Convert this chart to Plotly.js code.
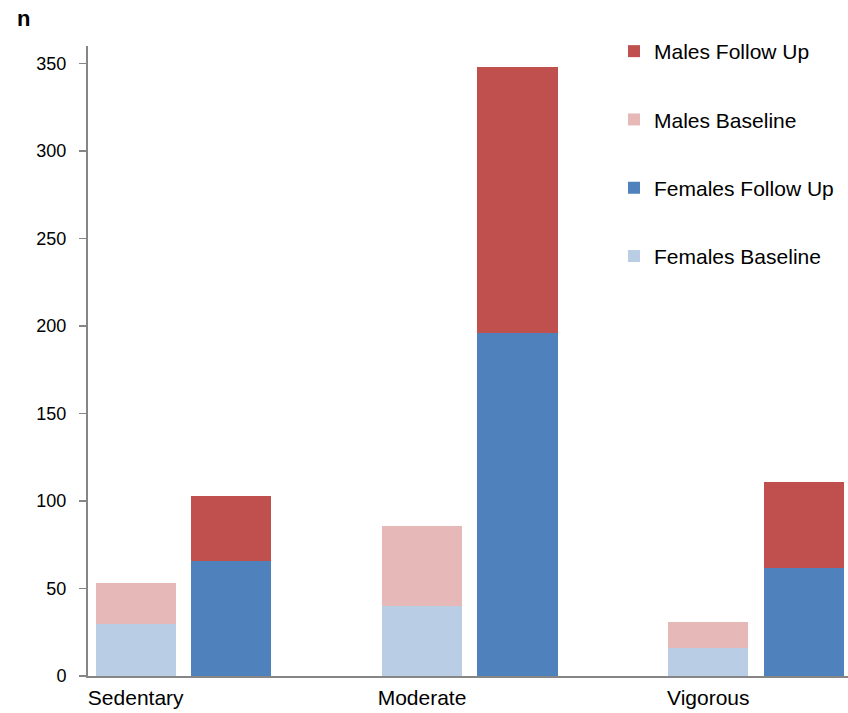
<!DOCTYPE html>
<html>
<head>
<meta charset="utf-8">
<script src="https://cdn.plot.ly/plotly-3.0.1.min.js"></script>
<style>html,body{margin:0;padding:0;background:#fff;}#chart{width:848px;height:713px;}</style>
</head>
<body>
<div id="chart"></div>
<script>
var categories = ["Sedentary", "Moderate", "Vigorous"];
var femalesBaseline = [30, 40, 16];
var malesBaseline = [23, 46, 15];
var femalesFollowUp = [66, 196, 62];
var malesFollowUp = [37, 152, 49];

var seriesNames = ["Females Baseline", "Males Baseline", "Females Follow Up", "Males Follow Up"];
var seriesColors = ["#B9CDE5", "#E6B9B8", "#4F81BD", "#C0504D"];

// each category occupies three slots: baseline, follow up, empty gap
var basePos = categories.map(function (c, i) { return i * 3; });
var fuPos = categories.map(function (c, i) { return i * 3 + 1; });

var seriesData = [femalesBaseline, malesBaseline, femalesFollowUp, malesFollowUp];
var seriesPos = [basePos, basePos, fuPos, fuPos];
var ranks = [4, 2, 3, 1];

var traces = seriesNames.map(function (name, k) {
  return {
    type: "bar",
    name: name,
    x: seriesPos[k],
    y: seriesData[k],
    marker: { color: seriesColors[k], line: { width: 0 } },
    legendgroup: "g" + k,
    legendrank: ranks[k],
    hoverinfo: "y+name"
  };
});

var layout = {
  width: 848,
  height: 713,
  margin: { l: 88, r: 0, t: 46, b: 37 },
  paper_bgcolor: "#ffffff",
  plot_bgcolor: "#ffffff",
  barmode: "stack",
  bargap: 0.16,
  font: { family: "Liberation Sans, Arial, sans-serif", color: "#000000", size: 20 },
  title: {
    text: "<b>n</b>",
    font: { size: 22, family: "Liberation Sans, Arial, sans-serif", color: "#000" },
    x: 17 / 848, xref: "container", xanchor: "left",
    y: 1 - 18 / 713, yref: "container", yanchor: "middle"
  },
  xaxis: {
    range: [-0.5, 7.464],
    tickmode: "array",
    tickvals: basePos,
    ticktext: categories,
    ticks: "",
    showgrid: false,
    zeroline: false,
    showline: true,
    linecolor: "#868686",
    linewidth: 2,
    tickfont: { size: 21, family: "Liberation Sans, Arial, sans-serif", color: "#000" },
    ticklabelstandoff: 2,
    fixedrange: true
  },
  yaxis: {
    range: [0, 360],
    tickmode: "array",
    tickvals: [0, 50, 100, 150, 200, 250, 300, 350],
    ticks: "outside",
    ticklen: 7,
    tickwidth: 1.5,
    tickcolor: "#868686",
    showgrid: false,
    zeroline: false,
    showline: true,
    linecolor: "#868686",
    linewidth: 2,
    tickfont: { size: 18, family: "Liberation Sans, Arial, sans-serif", color: "#000" },
    ticklabelstandoff: 9,
    fixedrange: true
  },
  legend: {
    x: (614 - 88) / 760,
    xanchor: "left",
    y: 1 + (46 - 31) / 630,
    yanchor: "top",
    orientation: "v",
    traceorder: "grouped",
    tracegroupgap: 38,
    font: { size: 21, family: "Liberation Sans, Arial, sans-serif", color: "#000" },
    bgcolor: "rgba(0,0,0,0)",
    itemwidth: 30
  },
  showlegend: true
};

Plotly.newPlot("chart", traces, layout, { displayModeBar: false, staticPlot: true });
</script>
</body>
</html>
